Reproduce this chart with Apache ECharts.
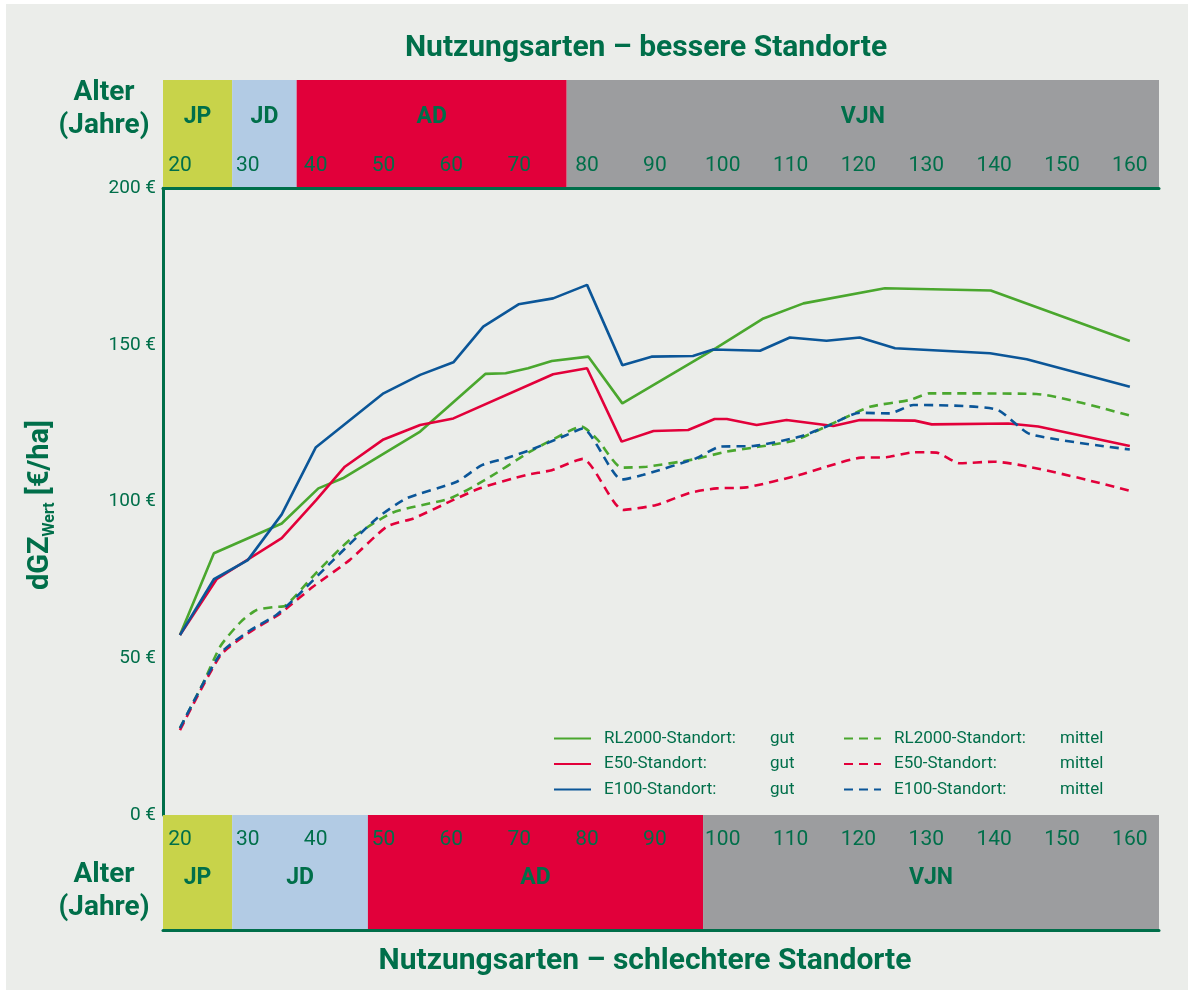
<!DOCTYPE html>
<html>
<head>
<meta charset="utf-8">
<script src="https://cdn.jsdelivr.net/npm/echarts@6/dist/echarts.min.js"></script>
<style>
  html, body { margin: 0; padding: 0; background: #ffffff; }
  #wrap { position: relative; width: 1193px; height: 995px; }
  #bg { position: absolute; left: 6px; top: 4px; width: 1182px; height: 986px; background: #ebedea; }
  #chart { position: absolute; left: 0; top: 0; width: 1193px; height: 995px; }
</style>
</head>
<body>
<div id="wrap">
  <div id="bg"></div>
  <div id="chart"></div>
</div>
<script>
// Alter (Jahre) auf der x-Achse
const ageTicks = [20, 30, 40, 50, 60, 70, 80, 90, 100, 110, 120, 130, 140, 150, 160]
const ageMin = 17.5
const ageMax = 164.3

// Nutzungsarten: [Name, von, bis]
const topBands = [
  ['JP', 17.5, 27.7],
  ['JD', 27.7, 37.2],
  ['AD', 37.2, 77],
  ['VJN', 77, 164.3]
]
const bottomBands = [
  ['JP', 17.5, 27.7],
  ['JD', 27.7, 47.7],
  ['AD', 47.7, 97.1],
  ['VJN', 97.1, 164.3]
]

// dGZ Wert [€/ha] je Alter
const rl2000Gut = [[20, 57.4], [25, 83.5], [35, 93.0], [40.4, 104.2], [44, 107.4], [55.4, 122.3], [65, 140.7], [68, 140.9], [71.3, 142.5], [74.8, 144.8], [80.2, 146.2], [85.2, 131.3], [99, 148.9], [106, 158.4], [111.9, 163.2], [123.9, 168.0], [139.5, 167.3], [160, 151.2]]
const e50Gut = [[20, 57.4], [25.4, 75.2], [35, 88.3], [40.1, 100.5], [44.3, 111.1], [50, 119.8], [55.4, 124.4], [60.3, 126.5], [75, 140.6], [80, 142.5], [85.1, 119.1], [89.8, 122.5], [94.9, 122.8], [98.8, 126.3], [100.6, 126.3], [105, 124.4], [109.4, 126], [116.3, 124.1], [120.2, 126], [128.3, 125.8], [130.8, 124.6], [142.1, 124.9], [146.5, 123.9], [160, 117.7]]
const e100Gut = [[20, 57.4], [25, 75.2], [30, 81.3], [35, 95.9], [40, 117.2], [50, 134.5], [55.4, 140.4], [60.3, 144.4], [64.7, 155.8], [69.9, 162.9], [75, 164.8], [80, 169.1], [85.2, 143.5], [89.5, 146.2], [95.6, 146.4], [98.6, 148.5], [105.5, 148.1], [109.9, 152.3], [115.3, 151.3], [120.2, 152.3], [125.4, 148.9], [139.4, 147.3], [144.8, 145.4], [160, 136.6]]
const rl2000Mittel = [[20, 27.7], [23.4, 42], [26, 54], [29, 61.7], [31.3, 65.4], [34.2, 66.4], [35.5, 66.7], [39.8, 76.6], [45.3, 88.3], [51.4, 96.5], [59.8, 101], [65, 106.9], [71.6, 115.9], [74.8, 119.6], [79.2, 123.9], [81.6, 119.6], [85.1, 110.8], [88.8, 111.1], [95.6, 113.4], [100.6, 115.9], [110.4, 119.4], [116.8, 125.5], [121.7, 130.2], [127.6, 132.4], [130.5, 134.5], [146.2, 134.3], [160, 127.4]]
const e50Mittel = [[20, 27.1], [26, 51], [30.4, 58.5], [34.5, 63.8], [36, 66.4], [39.6, 72.8], [45, 81.3], [50.5, 92], [54.4, 94.6], [60.3, 100.5], [64.2, 104.2], [71.1, 108.5], [74.8, 110], [79.4, 113.6], [85.3, 97.3], [90.2, 98.9], [95.2, 102.8], [99.1, 104.2], [103.5, 104.5], [111.4, 108.5], [115.3, 111.1], [120.4, 114], [124.1, 114.1], [128.1, 115.7], [131.5, 115.6], [134.9, 112.2], [139.9, 112.7], [160, 103.4]]
const e100Mittel = [[20, 27.7], [26, 51.6], [30.4, 59], [34.2, 63.8], [36.7, 68.6], [42.6, 81.3], [49, 94.6], [53.4, 101], [60.8, 106.3], [64.5, 111.6], [68.1, 113.8], [71.6, 116.4], [77, 121.2], [79.4, 123.3], [85.1, 107], [88.3, 108.5], [96.1, 113.8], [99.6, 117.5], [104.5, 117.7], [111.4, 120.7], [115.3, 123.9], [120.2, 128.3], [124.6, 128.1], [128.1, 130.8], [140.3, 129.4], [145.3, 121.5], [160, 116.6]]

const seriesNames = [
  'RL2000-Standort: gut', 'E50-Standort: gut', 'E100-Standort: gut',
  'RL2000-Standort: mittel', 'E50-Standort: mittel', 'E100-Standort: mittel'
]
const seriesData = [rl2000Gut, e50Gut, e100Gut, rl2000Mittel, e50Mittel, e100Mittel]

const darkGreen = '#006f4a'
const lineColors = ['#4aa72e', '#e2003a', '#0b5698', '#4aa72e', '#e2003a', '#0b5698']
const bandColors = { JP: '#c8d34a', JD: '#b2cbe4', AD: '#e1003a', VJN: '#9c9d9f' }
const font = 'Roboto, "Noto Sans", sans-serif'

const chart = echarts.init(document.getElementById('chart'))

function bandSeries(bands, axisIndex, labelY) {
  return {
    type: 'line',
    xAxisIndex: axisIndex,
    yAxisIndex: axisIndex,
    data: [],
    silent: true,
    markArea: {
      silent: true,
      label: {
        show: true,
        position: ['50%', labelY],
        align: 'center',
        verticalAlign: 'middle',
        color: darkGreen,
        fontFamily: font,
        fontWeight: 'bold',
        fontSize: 23
      },
      data: bands.map(b => [
        { name: b[0], xAxis: b[1], itemStyle: { color: bandColors[b[0]], opacity: 1 } },
        { xAxis: b[2] }
      ])
    }
  }
}

function bandAxis(gridIndex, position, margin) {
  return {
    type: 'value',
    gridIndex: gridIndex,
    position: position,
    min: ageMin,
    max: ageMax,
    z: 10,
    axisLine: { show: true, lineStyle: { color: darkGreen, width: 3 } },
    axisTick: { show: false },
    splitLine: { show: false },
    axisLabel: {
      inside: true,
      margin: margin,
      customValues: ageTicks,
      color: darkGreen,
      fontFamily: font,
      fontSize: 21
    }
  }
}

function legendFor(names, left) {
  return {
    orient: 'vertical',
    left: left,
    top: 725,
    itemWidth: 37,
    itemHeight: 14,
    itemGap: 8.5,
    data: names,
    itemStyle: { opacity: 0 },
    formatter: (name) => {
      let parts = name.split(': ')
      return '{n|' + parts[0] + ':}{s|' + parts[1] + '}'
    },
    textStyle: {
      color: darkGreen,
      fontFamily: font,
      fontSize: 17,
      rich: {
        n: { width: 166, padding: [0, 0, 0, 8], color: darkGreen, fontFamily: font, fontSize: 17 },
        s: { color: darkGreen, fontFamily: font, fontSize: 17 }
      }
    }
  }
}

const lineSeries = seriesNames.map((name, i) => ({
  name: name,
  type: 'line',
  xAxisIndex: 0,
  yAxisIndex: 0,
  data: seriesData[i],
  symbol: 'none',
  smooth: i >= 3 ? 0.2 : false,
  z: 5,
  lineStyle: {
    color: lineColors[i],
    width: 2.6,
    type: i >= 3 ? [9, 6] : 'solid'
  },
  itemStyle: { color: lineColors[i] }
}))

chart.setOption({
  animation: false,
  backgroundColor: 'transparent',
  textStyle: { fontFamily: font },
  grid: [
    { left: 163, top: 188, right: 34, height: 627 },
    { left: 163, top: 80, right: 34, height: 108 },
    { left: 163, top: 815, right: 34, height: 115 }
  ],
  xAxis: [
    {
      type: 'value',
      gridIndex: 0,
      min: ageMin,
      max: ageMax,
      axisLine: { show: false },
      axisTick: { show: false },
      axisLabel: { show: false },
      splitLine: { show: false }
    },
    bandAxis(1, 'bottom', 12),
    bandAxis(2, 'top', 14)
  ],
  yAxis: [
    {
      type: 'value',
      gridIndex: 0,
      min: 0,
      max: 200,
      interval: 50,
      axisLine: { show: true, lineStyle: { color: darkGreen, width: 3 } },
      axisTick: { show: false },
      splitLine: { show: false },
      axisLabel: {
        formatter: '{value} €',
        color: darkGreen,
        fontFamily: font,
        fontSize: 19,
        margin: 7
      }
    },
    { type: 'value', gridIndex: 1, min: 0, max: 1, show: false },
    { type: 'value', gridIndex: 2, min: 0, max: 1, show: false }
  ],
  legend: [
    legendFor(seriesNames.slice(0, 3), 548),
    legendFor(seriesNames.slice(3), 838)
  ],
  graphic: [
    {
      type: 'text', x: 646, y: 48,
      style: { text: 'Nutzungsarten – bessere Standorte', fill: darkGreen, font: 'bold 30px ' + font, align: 'center', verticalAlign: 'middle' }
    },
    {
      type: 'text', x: 645, y: 961,
      style: { text: 'Nutzungsarten – schlechtere Standorte', fill: darkGreen, font: 'bold 30px ' + font, align: 'center', verticalAlign: 'middle' }
    },
    {
      type: 'text', x: 104, y: 109,
      style: { text: 'Alter\n(Jahre)', fill: darkGreen, font: 'bold 28px ' + font, lineHeight: 33, align: 'center', verticalAlign: 'middle' }
    },
    {
      type: 'text', x: 104, y: 891,
      style: { text: 'Alter\n(Jahre)', fill: darkGreen, font: 'bold 28px ' + font, lineHeight: 33, align: 'center', verticalAlign: 'middle' }
    },
    {
      type: 'text', x: 41, y: 505, rotation: Math.PI / 2,
      style: {
        text: '{a|dGZ}{b|Wert}{a| [€/ha]}',
        align: 'center',
        verticalAlign: 'middle',
        rich: {
          a: { fill: darkGreen, fontFamily: font, fontWeight: 'bold', fontSize: 29, lineHeight: 34, verticalAlign: 'middle' },
          b: { fill: darkGreen, fontFamily: font, fontWeight: 'bold', fontSize: 16, lineHeight: 16, verticalAlign: 'bottom' }
        }
      }
    }
  ],
  series: [
    bandSeries(topBands, 1, 37),
    bandSeries(bottomBands, 2, 63),
    ...lineSeries
  ]
})
</script>
</body>
</html>
